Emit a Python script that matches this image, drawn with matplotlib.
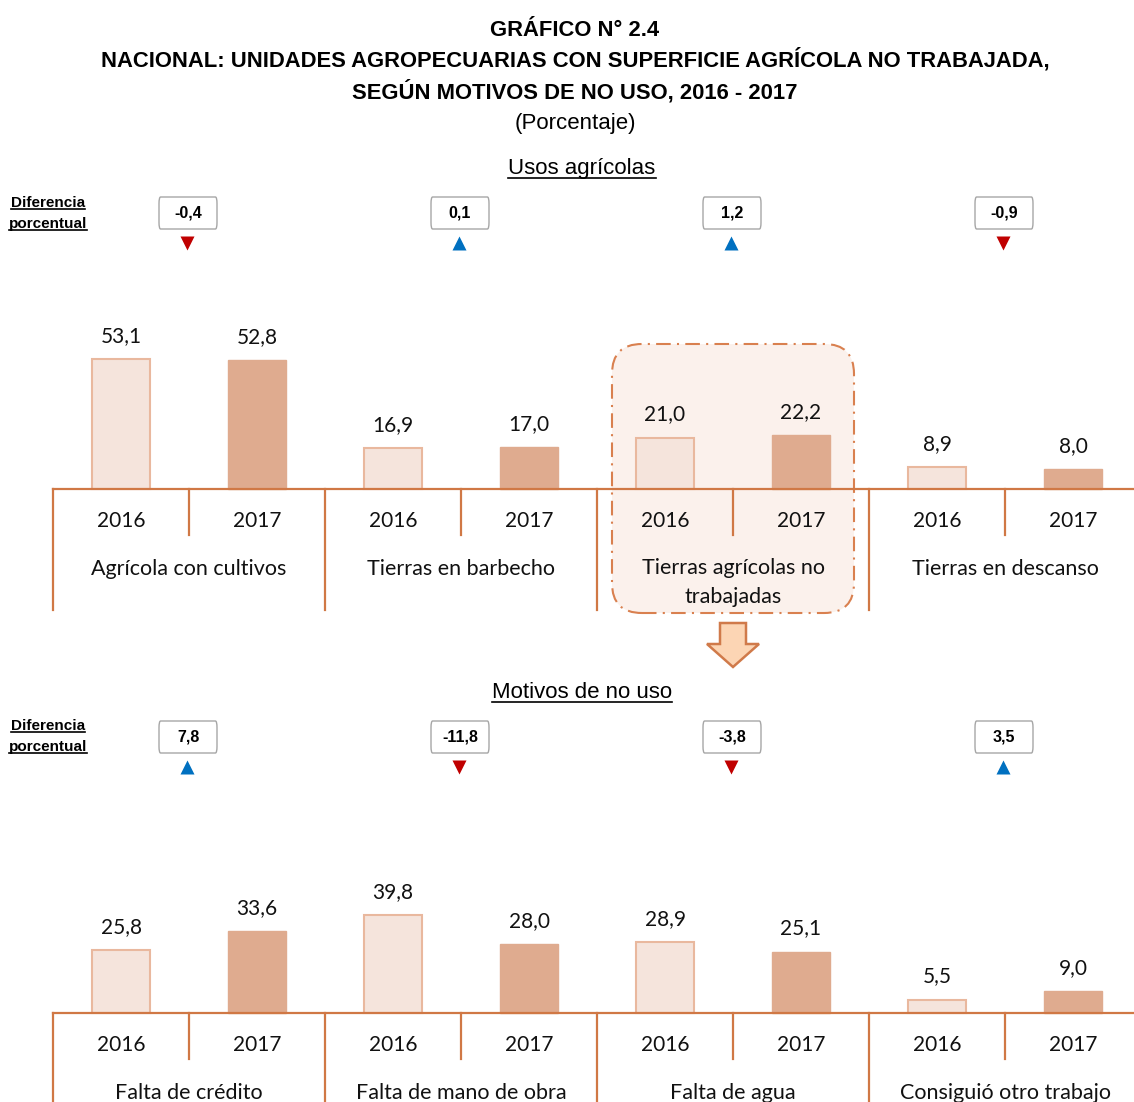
import matplotlib
matplotlib.use("Agg")
import matplotlib.pyplot as plt
import matplotlib.transforms as mtransforms
from matplotlib.patches import FancyBboxPatch, Polygon
from matplotlib.lines import Line2D

# data
years = ["2016", "2017"]
cats_top = ["Agrícola con cultivos", "Tierras en barbecho",
            "Tierras agrícolas no\ntrabajadas", "Tierras en descanso"]
v16_top = [53.1, 16.9, 21.0, 8.9]
v17_top = [52.8, 17.0, 22.2, 8.0]
diff_top = [-0.4, 0.1, 1.2, -0.9]

cats_bot = ["Falta de crédito", "Falta de mano de obra",
            "Falta de agua", "Consiguió otro trabajo"]
v16_bot = [25.8, 39.8, 28.9, 5.5]
v17_bot = [33.6, 28.0, 25.1, 9.0]
diff_bot = [7.8, -11.8, -3.8, 3.5]

W, H = 1134, 1102
S = 2.45  # pixels per percentage point
NARROW = ["Liberation Sans Narrow", "Liberation Sans", "DejaVu Sans"]
BODY = ["Lato", "DejaVu Sans"]
LINE = "#d07845"
C16, E16, C17 = "#f5e4dc", "#e9b89e", "#dfab8f"

fig = plt.figure(figsize=(W / 100, H / 100), dpi=100)


def fx(x):
    return x / W


def fy(y):
    return 1 - y / H


def fmt(v):
    return f"{v:.1f}".replace(".", ",")


def make_panel(base_px, ylo, yhi):
    bottom = base_px - ylo * S
    ax = fig.add_axes([fx(53), fy(bottom), 1088 / W, (yhi - ylo) * S / H])
    ax.set_xlim(0, 4)
    ax.set_ylim(ylo, yhi)
    ax.axis("off")
    return ax


def draw_panel(ax, cats, v16, v17, group_depth):
    n = len(cats)
    x16 = [g + 0.25 for g in range(n)]
    x17 = [g + 0.75 for g in range(n)]
    bw = 58 / 272
    ax.bar(x16, v16, width=bw, color=C16, edgecolor=E16, linewidth=1.5, zorder=3)
    ax.bar(x17, v17, width=bw, color=C17, edgecolor=C17, linewidth=1, zorder=3)
    for x, v in zip(x16 + x17, v16 + v17):
        ax.text(x, v + 17 / S, fmt(v), ha="center", va="baseline",
                fontsize=15, family=BODY, color="#111111", zorder=4)
    ax.plot([0, 4], [0, 0], color=LINE, lw=1.6, zorder=4, clip_on=False)
    for g in range(n):
        ax.plot([g, g], [0, group_depth], color=LINE, lw=1.6, clip_on=False, zorder=4)
        ax.plot([g + 0.5, g + 0.5], [0, -46 / S], color=LINE, lw=1.6, zorder=4)
        for x, y in zip([g + 0.25, g + 0.75], years):
            ax.text(x, -38 / S, y, ha="center", va="baseline", fontsize=15,
                    family=BODY, color="#111111", zorder=4)
        extra = cats[g].count("\n") * 28 / S
        ax.text(g + 0.5, -86 / S - extra, cats[g], ha="center", va="baseline",
                fontsize=15.5, family=BODY, color="#111111", linespacing=1.55,
                zorder=4)


def draw_diffs(ax, diffs, box_y, tri_y):
    tr = mtransforms.blended_transform_factory(ax.transData, fig.transFigure)
    for g, d in enumerate(diffs):
        xc = g + 0.5
        box = FancyBboxPatch((xc - 30 / 272, fy(box_y + 16)), 58 / 272, 32 / H,
                             boxstyle="round,pad=0,rounding_size=0.006",
                             mutation_aspect=1.0,
                             transform=tr, facecolor="white", edgecolor="#a6a6a6",
                             lw=1.0, clip_on=False)
        ax.add_patch(box)
        ax.text(xc - 1 / 272, fy(box_y), fmt(d), transform=tr, ha="center",
                va="center", fontsize=11.5, fontweight="bold", family=NARROW)
        if d < 0:
            ax.plot([xc - 2 / 272], [fy(tri_y)], marker="v", color="#c00000", ms=10,
                    transform=tr, clip_on=False, mec="none")
        else:
            ax.plot([xc - 2 / 272], [fy(tri_y)], marker="^", color="#0070c0", ms=10,
                    transform=tr, clip_on=False, mec="none")


to_underline = []


def utext(x, y, s, **kw):
    t = fig.text(fx(x), fy(y), s, ha="center", va="baseline", **kw)
    to_underline.append(t)
    return t


# titles
fig.text(fx(575), fy(36), "GRÁFICO N° 2.4", ha="center", va="baseline",
         fontsize=15.8, fontweight="bold", family=NARROW)
fig.text(fx(575), fy(67), "NACIONAL: UNIDADES AGROPECUARIAS CON SUPERFICIE AGRÍCOLA NO TRABAJADA,",
         ha="center", va="baseline", fontsize=15.8, fontweight="bold", family=NARROW)
fig.text(fx(575), fy(98), "SEGÚN MOTIVOS DE NO USO, 2016 - 2017", ha="center",
         va="baseline", fontsize=15.8, fontweight="bold", family=NARROW)
fig.text(fx(575), fy(129), "(Porcentaje)", ha="center", va="baseline",
         fontsize=16, family=NARROW)

utext(582, 174, "Usos agrícolas", fontsize=16, family=NARROW)
utext(582, 698, "Motivos de no uso", fontsize=16, family=NARROW)
for y0 in (207, 730):
    utext(48, y0, "Diferencia", fontsize=11, fontweight="bold", family=NARROW)
    utext(48, y0 + 21, "porcentual", fontsize=11, fontweight="bold", family=NARROW)

# top panel
ax1 = make_panel(489, -54, 62)
hl = FancyBboxPatch((2 + 15 / 272, -124 / S), 242 / 272, 269 / S,
                    boxstyle="round,pad=0,rounding_size=0.11",
                    mutation_aspect=272 / S, facecolor="#fbf1ec",
                    edgecolor="#d9804f", lw=1.5, linestyle=(0, (7, 3, 1, 3)),
                    zorder=1, clip_on=False)
ax1.add_patch(hl)
draw_panel(ax1, cats_top, v16_top, v17_top, -121 / S)
draw_diffs(ax1, diff_top, 213, 243)

# arrow between panels
trA = mtransforms.blended_transform_factory(ax1.transData, fig.transFigure)
xa = 2.5
arrow = Polygon([(xa - 13 / 272, fy(623)), (xa + 13 / 272, fy(623)),
                 (xa + 13 / 272, fy(644)), (xa + 26 / 272, fy(644)),
                 (xa, fy(667)), (xa - 26 / 272, fy(644)),
                 (xa - 13 / 272, fy(644))], closed=True, transform=trA,
                facecolor="#fcd5b4", edgecolor="#d07a4a", lw=1.8, clip_on=False)
ax1.add_patch(arrow)

# bottom panel
ax2 = make_panel(1013, -40, 62)
draw_panel(ax2, cats_bot, v16_bot, v17_bot, -40)
draw_diffs(ax2, diff_bot, 737, 767)

# underlines
fig.canvas.draw()
r = fig.canvas.get_renderer()
for t in to_underline:
    bb = t.get_window_extent(r)
    yb = bb.y0 + 1
    fig.add_artist(Line2D([bb.x0 / W, bb.x1 / W], [yb / H, yb / H],
                          transform=fig.transFigure, color="black", lw=1.2))

fig.savefig("out.png", dpi=100)
